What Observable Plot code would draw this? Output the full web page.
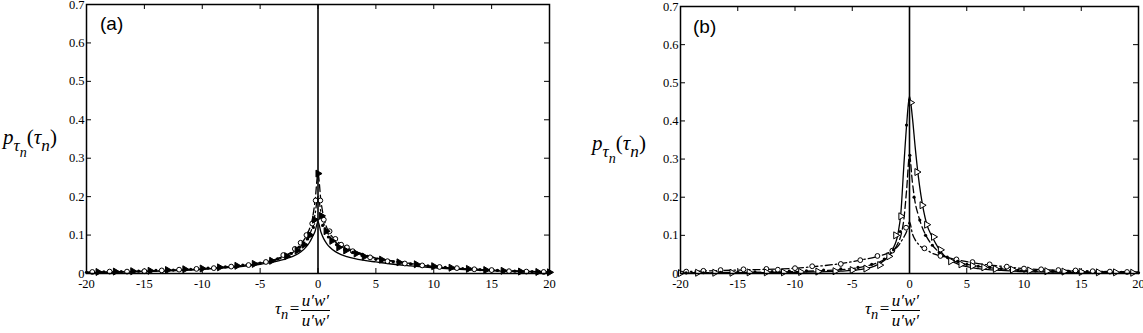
<!DOCTYPE html>
<html>
<head>
<meta charset="utf-8">
<script src="https://cdn.jsdelivr.net/npm/d3@7"></script>
<script src="https://cdn.jsdelivr.net/npm/@observablehq/plot@0.6"></script>
<style>
  html, body { margin: 0; padding: 0; background: #fff; overflow: hidden; }
  #wrap { position: relative; width: 1143px; height: 333px; font-family: "Liberation Serif", serif; color: #000; }
  .panel { position: absolute; top: 0; }
  .panel svg { overflow: visible; max-width: none; }
  .panel svg text { font-family: "Liberation Serif", serif !important; font-size: 12.5px !important; fill: #000; }
  .ylab { position: absolute; font-size: 21px; white-space: nowrap; line-height: 1; }
  .ylab sub { font-size: 0.82em; vertical-align: -0.42em; line-height: 0; }
  .xlab { position: absolute; font-size: 17px; white-space: nowrap; line-height: 1; }
  .xlab sub { font-size: 0.85em; vertical-align: -0.35em; line-height: 0; }
  .frac { display: inline-block; vertical-align: middle; text-align: center; font-style: italic; }
  .frac .num { display: block; border-bottom: 1px solid #000; padding: 0 1px 1px 1px; }
  .frac .den { display: block; text-decoration: overline; padding-top: 1px; }
  .tag { position: absolute; font-family: "Liberation Sans", Arial, sans-serif; font-size: 19px; line-height: 1; }
</style>
</head>
<body>
<div id="wrap">
  <div class="panel" id="pa" style="left:0px;width:571px"></div>
  <div class="panel" id="pb" style="left:571px;width:572px"></div>
  <div class="tag" style="left:100px;top:14px">(a)</div>
  <div class="tag" style="left:693px;top:17px">(b)</div>
  <div class="ylab" style="left:3px;top:127px"><i>p</i><sub><i>τ<sub>n</sub></i></sub>(<i>τ<sub>n</sub></i>)</div>
  <div class="ylab" style="left:592px;top:133px"><i>p</i><sub><i>τ<sub>n</sub></i></sub>(<i>τ<sub>n</sub></i>)</div>
  <div class="xlab" style="left:275px;top:292px"><i>τ</i><sub><i>n</i></sub>&#8202;=&#8202;<span class="frac"><span class="num">u′w′</span><span class="den">u′w′</span></span></div>
  <div class="xlab" style="left:865px;top:292px"><i>τ</i><sub><i>n</i></sub>&#8202;=&#8202;<span class="frac"><span class="num">u′w′</span><span class="den">u′w′</span></span></div>
</div>
<script>
// ---------- tick values ----------
const xTicks = [-20, -15, -10, -5, 0, 5, 10, 15, 20];
const yTicks = [0, 0.1, 0.2, 0.3, 0.4, 0.5, 0.6, 0.7];

// ---------- model curves (shared x grid) ----------
const lineX = [-20,-15,-10,-8,-6,-5,-4,-3,-2.5,-2,-1.5,-1,-0.75,-0.5,-0.25,0,0.25,0.5,0.75,1,1.5,2,2.5,3,4,5,6,8,10,15,20];

// panel (a)
const solidA   = [0.003,0.005,0.011,0.015,0.020,0.024,0.029,0.036,0.041,0.047,0.056,0.070,0.080,0.094,0.110,0.135,0.108,0.090,0.078,0.069,0.057,0.049,0.044,0.040,0.034,0.030,0.026,0.020,0.015,0.007,0.003];
const dashedA  = [0.003,0.006,0.012,0.017,0.023,0.028,0.034,0.045,0.052,0.062,0.076,0.098,0.115,0.140,0.190,0.260,0.190,0.145,0.120,0.105,0.088,0.076,0.067,0.060,0.049,0.041,0.035,0.026,0.018,0.009,0.004];
const dashdotA = [0.003,0.006,0.012,0.016,0.022,0.027,0.033,0.042,0.050,0.058,0.070,0.088,0.100,0.120,0.155,0.200,0.160,0.130,0.110,0.097,0.082,0.072,0.064,0.057,0.047,0.040,0.034,0.025,0.018,0.009,0.004];

// panel (b)
const solidB   = [0.001,0.002,0.003,0.004,0.006,0.008,0.012,0.020,0.028,0.040,0.062,0.105,0.160,0.280,0.390,0.465,0.410,0.330,0.260,0.205,0.130,0.095,0.068,0.048,0.028,0.018,0.013,0.008,0.005,0.003,0.002];
const dashedB  = [0.002,0.003,0.005,0.007,0.010,0.013,0.018,0.026,0.032,0.042,0.056,0.080,0.100,0.140,0.220,0.310,0.240,0.185,0.155,0.130,0.096,0.074,0.058,0.046,0.032,0.024,0.019,0.012,0.008,0.004,0.002];
const dashdotB = [0.005,0.009,0.014,0.019,0.026,0.031,0.037,0.043,0.047,0.052,0.060,0.072,0.083,0.095,0.110,0.135,0.105,0.088,0.078,0.070,0.062,0.053,0.048,0.044,0.037,0.031,0.026,0.019,0.013,0.007,0.004];

// ---------- measured points ----------
// panel (a)
const circAx = [-19.5,-18,-16.5,-15,-13.5,-12,-10.5,-9,-7.5,-6,-4.5,-3,-2,-1.5,-1,-0.5,-0.2,0.2,0.5,1,1.5,2,2.5,3,4.5,6,7.5,9,10.5,12,13.5,15,16.5,18,19.5];
const circAy = [0.004,0.005,0.005,0.006,0.008,0.010,0.012,0.014,0.018,0.022,0.030,0.048,0.064,0.080,0.100,0.130,0.190,0.190,0.140,0.110,0.090,0.075,0.068,0.058,0.042,0.032,0.026,0.021,0.017,0.014,0.011,0.009,0.006,0.005,0.004];
const triAx  = [-19,-17.5,-16,-14.5,-13,-11.5,-10,-8.5,-7,-5.5,-4,-2.7,-1.8,-1.2,-0.7,-0.3,0,0.3,0.7,1.2,1.8,2.4,3.3,4,5.5,7,8.5,10,11.5,13,14.5,16,17.5,19,20];
const triAy  = [0.004,0.005,0.006,0.007,0.009,0.011,0.013,0.016,0.020,0.025,0.033,0.045,0.060,0.075,0.100,0.140,0.260,0.150,0.110,0.085,0.068,0.060,0.052,0.044,0.036,0.029,0.024,0.019,0.015,0.012,0.009,0.007,0.005,0.004,0.003];
const dotAx  = [-20,-18.5,-17,-15.5,-14,-12.5,-11,-9.5,-8,-6.5,-5,-3.5,-2.3,-1.6,-0.9,-0.4,0.4,0.9,1.6,2.3,3,3.8,5,6.5,8,9.5,11,12.5,14,15.5,17,18.5,20];
const dotAy  = [0.003,0.004,0.005,0.006,0.008,0.009,0.011,0.014,0.017,0.022,0.027,0.038,0.052,0.068,0.090,0.120,0.125,0.095,0.075,0.062,0.055,0.047,0.037,0.030,0.025,0.020,0.016,0.013,0.010,0.008,0.006,0.005,0.003];

// panel (b)
const circBx = [-19.5,-18,-16.5,-14.5,-12.5,-11.5,-10,-8.5,-6,-4.3,-2.8,-1.5,-0.3,1.3,2.7,4.1,5.5,7,8.5,10,11.5,13,14.5,16,17.5,19];
const circBy = [0.005,0.007,0.009,0.011,0.012,0.010,0.014,0.019,0.025,0.035,0.046,0.060,0.120,0.066,0.046,0.037,0.030,0.024,0.018,0.013,0.011,0.009,0.008,0.006,0.005,0.004];
const triBx  = [-20,-18.5,-17,-15.5,-14,-12.5,-11,-9.5,-8,-6.5,-5,-3.8,-2.6,-1.8,-1.2,-0.75,0.1,0.65,1.1,1.5,2.1,2.7,3.6,4.5,5.5,6.5,7.5,9,10.5,12,13.5,15,16.5,18,19.5];
const triBy  = [0.001,0.002,0.002,0.002,0.003,0.003,0.003,0.004,0.005,0.006,0.009,0.013,0.022,0.045,0.100,0.150,0.448,0.266,0.179,0.128,0.096,0.062,0.032,0.024,0.020,0.016,0.012,0.010,0.008,0.006,0.005,0.004,0.003,0.003,0.002];
const dotBx  = [-19.5,-18,-16.5,-15,-13.5,-12,-10.5,-9,-7.5,-6,-4.5,-3.3,-2.2,-1.4,-0.8,-0.26,0.03,0.4,0.9,1.4,2,2.6,3.3,4.2,5,6,7,8,9.5,11,12.5,14,15.5,17,18.5,20];
const dotBy  = [0.002,0.002,0.003,0.003,0.004,0.005,0.006,0.007,0.009,0.012,0.016,0.024,0.038,0.062,0.110,0.389,0.310,0.200,0.140,0.100,0.074,0.055,0.043,0.032,0.024,0.019,0.016,0.013,0.009,0.007,0.006,0.005,0.004,0.003,0.003,0.002];

// ---------- helpers ----------
const zip = (xs, ys) => xs.map((x, i) => ({x, y: ys[i]}));

function panel(el, geom, curves, pts) {
  const {w, ml, mr, mt, mb} = geom;
  const h = 333;
  const fh = h - mt - mb;
  const fw = w - ml - mr;
  const lineStyle = {x: "x", y: "y", stroke: "#000", strokeWidth: 1.3, curve: "monotone-x"};
  const chart = Plot.plot({
    width: w, height: h,
    marginLeft: ml, marginRight: mr, marginTop: mt, marginBottom: mb,
    x: {domain: [-20, 20]},
    y: {domain: [0, 0.7]},
    style: {fontFamily: "'Liberation Serif', serif", fontSize: "12.5px", color: "#000", background: "transparent", overflow: "visible"},
    marks: [
      Plot.axisX({ticks: xTicks, tickSize: 0, tickPadding: 6, label: null, tickFormat: d => String(d)}),
      Plot.axisY({ticks: yTicks, tickSize: 0, tickPadding: 2, label: null, tickFormat: d => String(d)}),
      Plot.tickX(xTicks, {x: d => d, insetTop: fh - 5, stroke: "#000"}),
      Plot.tickX(xTicks, {x: d => d, insetBottom: fh - 5, stroke: "#000"}),
      Plot.tickY(yTicks, {y: d => d, insetRight: fw - 5, stroke: "#000"}),
      Plot.tickY(yTicks, {y: d => d, insetLeft: fw - 5, stroke: "#000"}),
      Plot.line(zip(lineX, curves.solid), {...lineStyle}),
      Plot.line(zip(lineX, curves.dashed), {...lineStyle, strokeDasharray: "7,3.5"}),
      Plot.line(zip(lineX, curves.dashdot), {...lineStyle, strokeDasharray: "7,3,1.5,3"}),
      Plot.dot(zip(pts.circx, pts.circy), {x: "x", y: "y", symbol: "circle", r: 2.4, fill: "#fff", stroke: "#000", strokeWidth: 1}),
      Plot.dot(zip(pts.trix, pts.triy), {x: "x", y: "y", symbol: "triangle", rotate: 90, r: 2.6, fill: pts.triFill, stroke: "#000", strokeWidth: 1}),
      Plot.dot(zip(pts.dotx, pts.doty), {x: "x", y: "y", symbol: "circle", r: 1.6, fill: "#000", stroke: "none"}),
      Plot.ruleX([0], {stroke: "#000", strokeWidth: 1.6}),
      Plot.frame({stroke: "#000", strokeWidth: 1.5})
    ]
  });
  document.getElementById(el).append(chart);
}

panel("pa", {w: 571, ml: 86, mr: 22, mt: 4, mb: 60},
  {solid: solidA, dashed: dashedA, dashdot: dashdotA},
  {circx: circAx, circy: circAy, trix: triAx, triy: triAy, dotx: dotAx, doty: dotAy, triFill: "#000"});

panel("pb", {w: 572, ml: 109, mr: 5, mt: 6, mb: 60},
  {solid: solidB, dashed: dashedB, dashdot: dashdotB},
  {circx: circBx, circy: circBy, trix: triBx, triy: triBy, dotx: dotBx, doty: dotBy, triFill: "#fff"});
</script>
</body>
</html>
